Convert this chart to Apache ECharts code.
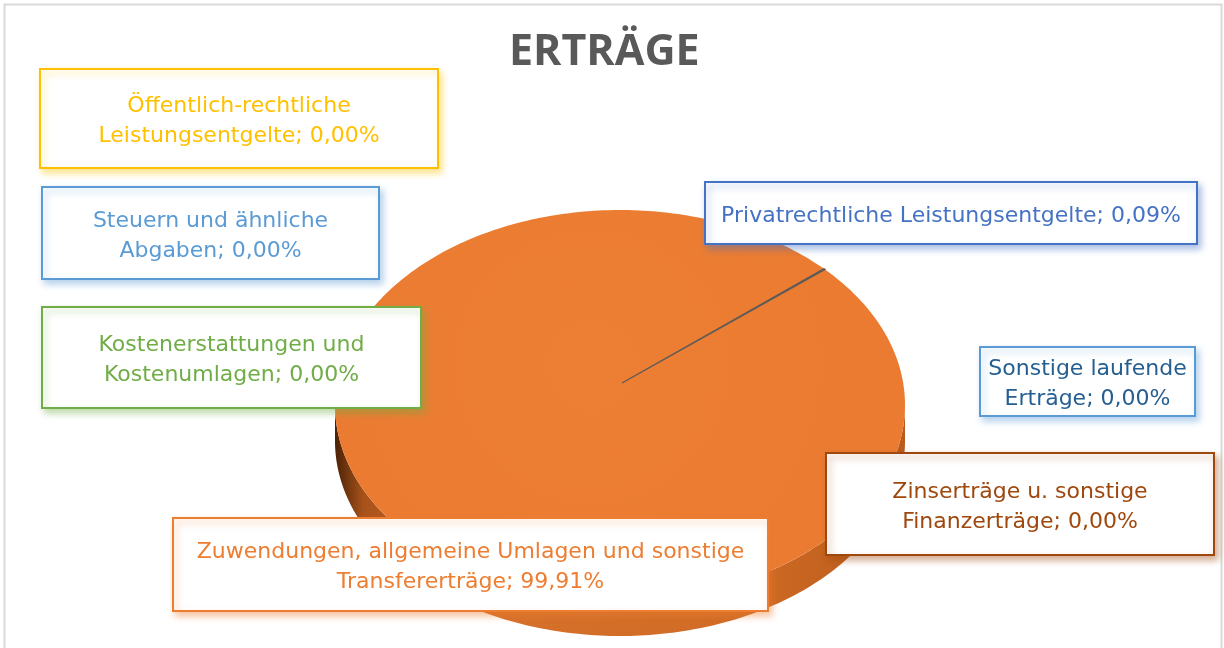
<!DOCTYPE html>
<html>
<head>
<meta charset="utf-8">
<script src="https://cdn.jsdelivr.net/npm/echarts/dist/echarts.min.js"></script>
<style>
  html, body { margin: 0; padding: 0; background: #fff; }
  #chart { width: 1224px; height: 648px; }
</style>
</head>
<body>
<div id="chart"></div>
<script>
var chartTitle = 'ERTRÄGE';
var categories = [
  'Steuern und ähnliche\nAbgaben',
  'Zuwendungen, allgemeine Umlagen und sonstige\nTransfererträge',
  'Öffentlich-rechtliche\nLeistungsentgelte',
  'Privatrechtliche Leistungsentgelte',
  'Kostenerstattungen und\nKostenumlagen',
  'Sonstige laufende\nErträge',
  'Zinserträge u. sonstige\nFinanzerträge'
];
var shares = [0, 99.91, 0, 0.09, 0, 0, 0];   // percent

var sliceColors  = ['#5B9BD5', '#ED7D31', '#FFC000', '#5F5A55', '#70AD47', '#255E91', '#9E480E'];
var labelColors  = ['#5B9BD5', '#ED7D31', '#FFC000', '#4472C4', '#70AD47', '#255E91', '#9E480E'];
var borderColors = ['#5B9BD5', '#ED7D31', '#FFC000', '#4472C4', '#70AD47', '#5B9BD5', '#9E480E'];
// label boxes: x, y, width, height
var labelBoxes = [
  [42, 187, 337, 92],
  [173, 518, 595, 93],
  [40, 69, 398, 99],
  [705, 182, 492, 62],
  [42, 307, 379, 101],
  [980, 347, 215, 69],
  [826, 453, 388, 102]
];

var pie = { cx: 620, cy: 405, rx: 285, ry: 195, depth: 36, apexDx: 2, apexDy: -22 };
var startAngle = 46.0; // degrees, clockwise from 12 o'clock

var total = shares.reduce(function (a, b) { return a + b; }, 0);

function ellipsePoint(deg, dy) {
  var r = deg * Math.PI / 180;
  return [pie.cx + pie.rx * Math.sin(r), pie.cy - pie.ry * Math.cos(r) + (dy || 0)];
}
function arc(a0, a1, dy) {
  var pts = [];
  var n = Math.max(2, Math.ceil(Math.abs(a1 - a0)));
  for (var i = 0; i <= n; i++) pts.push(ellipsePoint(a0 + (a1 - a0) * i / n, dy));
  return pts;
}
function rgba(hex, a) {
  var v = parseInt(hex.slice(1), 16);
  return 'rgba(' + (v >> 16) + ',' + ((v >> 8) & 255) + ',' + (v & 255) + ',' + a + ')';
}
function pct(v) {
  return v.toFixed(2).replace('.', ',') + '%';
}

var chart = echarts.init(document.getElementById('chart'));

var option = {
  animation: false,
  backgroundColor: '#fff',
  title: {
    text: chartTitle,
    left: 509,
    top: 31,
    padding: 0,
    textStyle: { fontSize: 43, fontWeight: 'bold', color: '#595959', fontFamily: 'Open Sans' }
  },
  graphic: [{
    type: 'rect',
    shape: { x: 4.5, y: 4.5, width: 1217, height: 700 },
    style: { fill: null, stroke: '#d9d9d9', lineWidth: 2 },
    silent: true
  }],
  series: [{
    type: 'custom',
    coordinateSystem: 'none',
    data: shares.map(function (v, i) { return { name: categories[i], value: v }; }),
    renderItem: function (params, api) {
      var i = params.dataIndex;
      var before = 0;
      for (var k = 0; k < i; k++) before += shares[k];
      var a0 = startAngle + 360 * before / total;
      var a1 = a0 + 360 * api.value(0) / total;
      var children = [];
      if (a1 > a0) {
        var apex = [pie.cx + pie.apexDx, pie.cy + pie.apexDy];
        var big = (a1 - a0) > 5;
        children.push({
          type: 'polygon',
          z2: 10,
          shape: { points: [apex].concat(arc(a0, a1, 0)) },
          style: {
            fill: big ? new echarts.graphic.RadialGradient(0.45, 0.4, 0.7, [
              { offset: 0, color: '#ED7F35' },
              { offset: 1, color: '#EA7B31' }
            ]) : sliceColors[i],
            stroke: big ? null : sliceColors[i],
            lineWidth: big ? 0 : 1.3
          }
        });
        [[90, 270], [450, 630]].forEach(function (r) {
          var s = Math.max(a0, r[0]), e = Math.min(a1, r[1]);
          if (e > s) {
            children.push({
              type: 'polygon',
              z2: 5,
              shape: { points: arc(s, e, 0).concat(arc(e, s, pie.depth)) },
              style: {
                fill: new echarts.graphic.LinearGradient(0, 0, 1, 0, [
                  { offset: 0, color: '#4a2206' },
                  { offset: 0.05, color: '#a8521a' },
                  { offset: 0.25, color: '#d5712b' },
                  { offset: 0.7, color: '#d16b25' },
                  { offset: 1, color: '#b95b1c' }
                ])
              }
            });
          }
        });
      }
      var b = labelBoxes[i];
      children.push({
        type: 'rect',
        z2: 20,
        shape: { x: b[0], y: b[1], width: b[2], height: b[3] },
        style: {
          fill: '#fff', stroke: borderColors[i], lineWidth: 2,
          shadowBlur: 7, shadowOffsetX: 3, shadowOffsetY: 4, shadowColor: rgba(borderColors[i], 0.45)
        }
      });
      children.push({
        type: 'text',
        z2: 21,
        style: {
          text: categories[i] + '; ' + pct(api.value(0)),
          x: b[0] + b[2] / 2,
          y: b[1] + b[3] / 2 + 3,
          align: 'center',
          verticalAlign: 'middle',
          fill: labelColors[i],
          font: '22px "DejaVu Sans"',
          lineHeight: 30
        }
      });
      return { type: 'group', children: children };
    }
  }]
};

chart.setOption(option);
</script>
</body>
</html>
